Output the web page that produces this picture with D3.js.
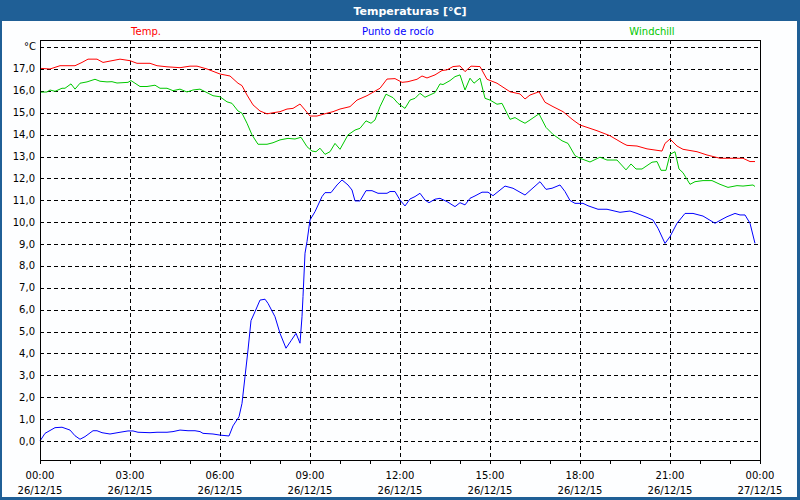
<!DOCTYPE html>
<html><head><meta charset="utf-8">
<script src="https://cdn.jsdelivr.net/npm/d3@7"></script>
<style>
html,body{margin:0;padding:0;background:#fff;}
svg{display:block;}
</style></head>
<body><svg id="c" width="800" height="500"></svg>
<script>
// ---- data ----
const chartTitle = "Temperaturas [°C]";
const seriesNames = ["Temp.", "Punto de rocío", "Windchill"];
const seriesColors = ["#ff0000", "#0000ff", "#00c800"];
const xTickTimes = ["00:00","03:00","06:00","09:00","12:00","15:00","18:00","21:00","00:00"];
const xTickDates = ["26/12/15","26/12/15","26/12/15","26/12/15","26/12/15","26/12/15","26/12/15","26/12/15","27/12/15"];
const yTickValues = [0,1,2,3,4,5,6,7,8,9,10,11,12,13,14,15,16,17];
const yUnitLabel = "°C";

// minutes since 26/12/15 00:00
const tempMinutes = [0,20,40,70,84,96,114,126,160,180,194,220,234,254,280,300,314,334,360,380,
  396,404,414,426,440,454,466,480,494,506,520,530,540,554,574,586,600,620,634,654,
  680,694,710,724,736,754,764,774,790,804,814,826,840,850,862,880,894,914,940,960,
  970,980,998,1010,1026,1046,1066,1080,1114,1140,1166,1174,1194,1214,1244,1250,1260,1274,1286,1314,
  1334,1360,1406,1420,1430];
const tempValues = [17.03,17.0,17.15,17.15,17.3,17.45,17.45,17.3,17.45,17.38,
  17.26,17.26,17.15,17.1,17.06,17.13,17.13,17.0,16.77,16.68,
  16.35,16.24,15.81,15.36,15.08,14.95,15.0,15.05,15.17,15.2,
  15.4,15.13,14.85,14.85,14.98,15.05,15.17,15.28,15.58,15.78,
  16.12,16.54,16.56,16.39,16.42,16.53,16.68,16.59,16.73,16.93,
  16.96,17.11,17.14,16.88,17.13,17.11,16.53,16.35,15.96,15.86,
  15.63,15.81,15.96,15.48,15.28,15.05,14.67,14.44,14.18,13.95,
  13.6,13.51,13.48,13.35,13.25,13.6,13.8,13.48,13.33,13.22,
  13.07,12.92,12.92,12.77,12.77];

const dewMinutes = [0,10,30,44,60,70,80,90,106,114,124,140,160,176,186,196,220,234,254,266,
  280,296,310,320,326,346,360,378,386,398,404,410,416,422,430,440,450,456,470,480,
  492,502,512,520,524,526,530,534,540,550,564,570,582,594,604,616,624,630,640,652,
  664,676,694,700,710,720,730,740,750,760,770,778,790,800,814,830,840,850,860,870,
  884,896,906,930,946,970,1000,1012,1024,1040,1050,1060,1070,1086,1096,1116,1134,1160,1180,1194,
  1214,1226,1236,1250,1260,1274,1290,1306,1326,1350,1364,1374,1390,1400,1410,1420,1430];
const dewValues = [0.0,0.35,0.61,0.63,0.5,0.24,0.08,0.2,0.47,0.47,
  0.38,0.32,0.4,0.46,0.46,0.4,0.38,0.4,0.4,0.43,
  0.5,0.47,0.47,0.43,0.35,0.32,0.27,0.23,0.69,1.11,
  1.72,2.94,4.16,5.5,5.91,6.44,6.48,6.29,5.68,4.92,
  4.24,4.58,4.92,4.47,5.68,6.6,8.58,9.11,10.1,10.48,
  11.17,11.35,11.35,11.7,11.93,11.7,11.47,10.97,10.97,11.44,
  11.44,11.32,11.32,11.4,11.4,11.01,10.74,11.06,11.17,11.32,
  11.01,10.89,11.05,11.09,10.94,10.71,10.89,10.79,11.09,11.2,
  11.37,11.37,11.21,11.65,11.55,11.24,11.85,11.5,11.55,11.7,
  11.4,10.99,10.86,10.86,10.75,10.59,10.59,10.45,10.51,10.4,
  10.22,10.1,9.72,9.03,9.34,9.95,10.4,10.4,10.28,9.95,
  10.13,10.25,10.4,10.33,10.33,9.95,9.03];

const chillMinutes = [0,14,20,30,44,50,62,70,80,94,110,120,134,144,154,176,182,200,214,230,
  240,254,266,280,294,306,320,334,346,360,374,384,396,404,414,424,436,454,466,480,
  496,510,522,534,544,552,560,570,580,590,600,616,630,640,652,662,670,680,692,706,
  716,730,740,750,760,770,790,800,806,820,830,840,850,860,868,880,890,900,914,924,
  940,950,960,970,980,998,1012,1026,1044,1056,1070,1080,1100,1120,1134,1154,1172,1182,1192,1204,
  1224,1234,1242,1252,1260,1270,1278,1286,1300,1310,1326,1344,1360,1376,1394,1406,1426,1430];
const chillValues = [15.94,15.95,16.04,15.98,16.12,16.12,16.32,16.08,16.35,16.41,
  16.53,16.44,16.41,16.42,16.36,16.39,16.47,16.2,16.2,16.26,
  16.12,16.12,16.01,16.08,15.95,16.04,16.08,15.92,15.78,15.73,
  15.5,15.43,15.08,14.98,14.52,13.99,13.56,13.56,13.63,13.76,
  13.83,13.8,13.88,13.45,13.25,13.22,13.38,13.1,13.22,13.6,
  13.33,13.99,14.21,14.29,14.63,14.52,14.67,15.28,15.85,15.69,
  15.43,15.2,15.58,15.66,15.89,15.71,15.92,16.32,16.29,16.47,
  16.65,16.73,16.04,16.58,16.35,16.58,15.66,15.58,15.39,15.43,
  14.7,14.78,14.64,14.52,14.67,14.95,14.33,14.01,13.72,13.6,
  13.04,12.92,12.75,12.97,12.84,12.84,12.39,12.66,12.43,12.43,
  12.74,12.77,12.37,12.37,13.1,13.22,12.43,12.26,11.73,11.85,
  11.9,11.9,11.73,11.59,11.67,11.65,11.7,11.63];

// ---- drawing ----
const svg = d3.select("#c");
const W = 800, H = 500;
const font = "Tahoma, 'DejaVu Sans', sans-serif";
const frameColor = "#1f5f96";

// frame
svg.append("rect").attr("x",0).attr("y",0).attr("width",W).attr("height",H).attr("fill",frameColor);
svg.append("rect").attr("x",2).attr("y",21).attr("width",W-5).attr("height",H-24).attr("fill","#fdfeff");
svg.append("text").attr("x",410).attr("y",14.5).attr("text-anchor","middle")
  .attr("fill","#fff").attr("font-family",font).attr("font-weight","bold").attr("font-size",11)
  .text(chartTitle);

const x = d3.scaleLinear().domain([0,1440]).range([40,760]);
const y = d3.scaleLinear().domain([-0.868,18.325]).range([460,40]);
const px = v => Math.round(v)+0.5;

const g = svg.append("g");

// horizontal grid
g.selectAll("line.hg").data(yTickValues.concat([18])).enter().append("line")
  .attr("x1",40).attr("x2",760).attr("y1",d=>px(y(d))).attr("y2",d=>px(y(d)))
  .attr("stroke","#000").attr("stroke-dasharray","4,3").attr("shape-rendering","crispEdges");
// vertical grid
const vt = d3.range(180,1440,180);
g.selectAll("line.vg").data(vt).enter().append("line")
  .attr("x1",d=>px(x(d))).attr("x2",d=>px(x(d))).attr("y1",40).attr("y2",460)
  .attr("stroke","#000").attr("stroke-dasharray","4,3").attr("shape-rendering","crispEdges");

// series
const series = [
  {m:tempMinutes, v:tempValues, c:seriesColors[0]},
  {m:chillMinutes, v:chillValues, c:seriesColors[2]},
  {m:dewMinutes, v:dewValues, c:seriesColors[1]}
];
const line = d3.line().x(d=>x(d[0])).y(d=>y(d[1]));
series.forEach(s=>{
  g.append("path").datum(s.m.map((m,i)=>[m,s.v[i]]))
   .attr("d",line).attr("fill","none").attr("stroke",s.c).attr("stroke-width",1);
});

// border
g.append("rect").attr("x",40.5).attr("y",40.5).attr("width",720).attr("height",420)
  .attr("fill","none").attr("stroke","#000").attr("shape-rendering","crispEdges");

// x axis ticks (hourly) and labels
const xAxis = d3.axisBottom(x).tickValues(d3.range(0,1441,60)).tickSize(4).tickFormat("");
const ax = g.append("g").attr("transform","translate(0,460)").call(xAxis);
ax.select(".domain").remove();
ax.selectAll("line").attr("stroke","#000").attr("shape-rendering","crispEdges");

const labT = d3.range(0,1441,180);
g.selectAll("text.xt").data(labT).enter().append("text")
  .attr("x",d=>x(d)).attr("y",479).attr("text-anchor","middle")
  .attr("font-family",font).attr("font-size",10).attr("fill","#000")
  .text((d,i)=>xTickTimes[i]);
g.selectAll("text.xd").data(labT).enter().append("text")
  .attr("x",d=>x(d)).attr("y",494).attr("text-anchor","middle")
  .attr("font-family",font).attr("font-size",10).attr("fill","#000")
  .text((d,i)=>xTickDates[i]);

// y labels
g.selectAll("text.yl").data(yTickValues).enter().append("text")
  .attr("x",35).attr("y",d=>y(d)+3.5).attr("text-anchor","end")
  .attr("font-family",font).attr("font-size",10).attr("fill","#000")
  .text(d=>d.toFixed(1).replace(".",","));
g.append("text").attr("x",36).attr("y",y(18)+2.5).attr("text-anchor","end")
  .attr("font-family",font).attr("font-size",10).attr("fill","#000").text(yUnitLabel);

// legend
const legX = [146, 398, 652];
[0,1,2].forEach(i=>{
  g.append("text").attr("x",legX[i]).attr("y",35).attr("text-anchor","middle")
   .attr("font-family",font).attr("font-size",10).attr("fill",seriesColors[i])
   .text(seriesNames[i]);
});
</script></body></html>
